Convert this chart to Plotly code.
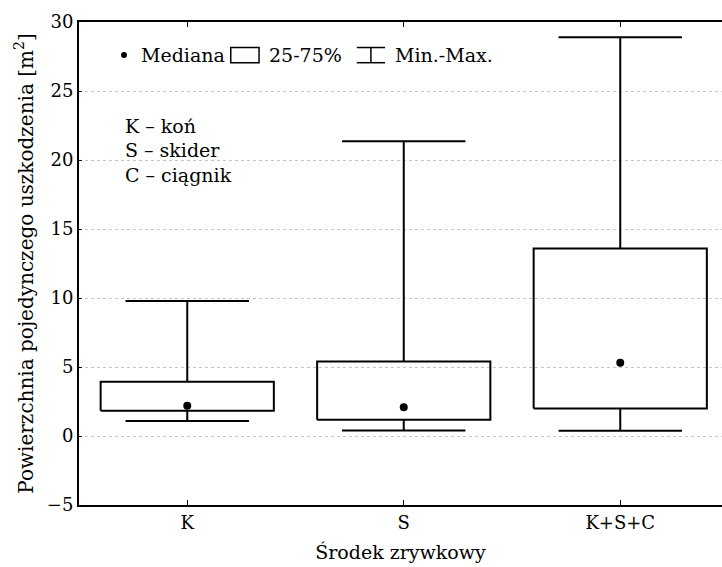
import plotly.graph_objects as go

# Skidding method categories and summary statistics of single-damage area [m2]
categories = ["K", "S", "K+S+C"]
minimum = [1.09, 0.40, 0.38]
q1 = [1.83, 1.17, 1.99]
median = [2.20, 2.09, 5.30]
q3 = [3.93, 5.40, 13.59]
maximum = [9.78, 21.36, 28.90]

y_ticks = [-5, 0, 5, 10, 15, 20, 25, 30]
legend_labels = ["Mediana", "25-75%", "Min.-Max."]
notes = ["K – koń", "S – skider", "C – ciągnik"]

FONT = "DejaVu Serif"
BOX_HALF = 0.40
CAP_HALF = 0.285
LINE = dict(color="black", width=2)
ANN_FONT = dict(family=FONT, size=19, color="black")

fig = go.Figure()

for i, cat in enumerate(categories):
    # interquartile box
    fig.add_trace(go.Scatter(
        x=[i - BOX_HALF, i + BOX_HALF, i + BOX_HALF, i - BOX_HALF, i - BOX_HALF],
        y=[q1[i], q1[i], q3[i], q3[i], q1[i]],
        mode="lines", line=LINE, hoverinfo="skip", showlegend=False))
    # whiskers with caps
    fig.add_trace(go.Scatter(
        x=[i, i, None, i - CAP_HALF, i + CAP_HALF, None,
           i, i, None, i - CAP_HALF, i + CAP_HALF],
        y=[q3[i], maximum[i], None, maximum[i], maximum[i], None,
           q1[i], minimum[i], None, minimum[i], minimum[i]],
        mode="lines", line=LINE, hoverinfo="skip", showlegend=False))

# medians
fig.add_trace(go.Scatter(
    x=list(range(len(categories))), y=median, mode="markers",
    marker=dict(color="black", size=8), showlegend=False))

# in-plot legend row (paper x, data y)
leg_y = 27.6
h = 0.55
fig.add_shape(type="circle", xref="paper", yref="y",
              xsizemode="pixel", ysizemode="pixel", xanchor=0.070, yanchor=leg_y,
              x0=-3, x1=3, y0=-3, y1=3,
              fillcolor="black", line=dict(color="black", width=0))
fig.add_annotation(x=0.093, y=leg_y, xref="paper", yref="y", text=legend_labels[0],
                   showarrow=False, xanchor="left", font=ANN_FONT)
fig.add_shape(type="rect", xref="paper", yref="y",
              x0=0.236, x1=0.280, y0=leg_y - h, y1=leg_y + h,
              line=dict(color="black", width=1.5))
fig.add_annotation(x=0.292, y=leg_y, xref="paper", yref="y", text=legend_labels[1],
                   showarrow=False, xanchor="left", font=ANN_FONT)
# whisker icon
wx0, wx1 = 0.432, 0.476
wxm = (wx0 + wx1) / 2
for (ax0, ay0, ax1, ay1) in [(wx0, leg_y + h, wx1, leg_y + h),
                             (wx0, leg_y - h, wx1, leg_y - h),
                             (wxm, leg_y - h, wxm, leg_y + h)]:
    fig.add_shape(type="line", xref="paper", yref="y",
                  x0=ax0, y0=ay0, x1=ax1, y1=ay1, line=dict(color="black", width=1.5))
fig.add_annotation(x=0.488, y=leg_y, xref="paper", yref="y", text=legend_labels[2],
                   showarrow=False, xanchor="left", font=ANN_FONT)

# abbreviation notes
for k, note in enumerate(notes):
    fig.add_annotation(x=0.068, y=22.5 - 1.81 * k, xref="paper", yref="y",
                       text=note, showarrow=False, xanchor="left", font=ANN_FONT)

fig.update_layout(
    width=722, height=567,
    margin=dict(l=79, r=0, t=22, b=62),
    paper_bgcolor="white", plot_bgcolor="white",
    font=dict(family=FONT, size=18, color="black"),
    xaxis=dict(
        range=[-0.5, 2.47], tickvals=list(range(len(categories))), ticktext=categories,
        showline=True, linecolor="black", linewidth=2, mirror="ticks",
        ticks="inside", ticklen=5, tickcolor="black", showgrid=False, zeroline=False,
        title=dict(text="Środek zrywkowy", standoff=14, font=dict(size=19))),
    yaxis=dict(
        range=[-5, 30], tickvals=y_ticks,
        ticktext=[("−5" if v < 0 else str(v)) for v in y_ticks],
        showline=True, linecolor="black", linewidth=2,
        ticks="inside", ticklen=3, tickcolor="black",
        showgrid=True, gridcolor="#c4c4c4", griddash="dot", gridwidth=1, zeroline=False,
        title=dict(text="Powierzchnia pojedynczego uszkodzenia [m<sup>2</sup>]",
                   standoff=8, font=dict(size=20))),
)

fig.write_html("out.html")
